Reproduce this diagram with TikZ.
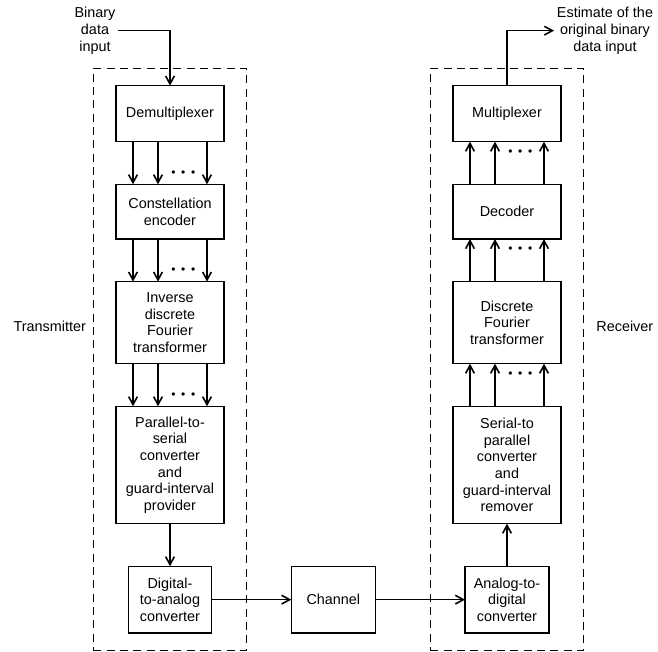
\documentclass[tikz,border=0pt]{standalone}
\usepackage{fontspec}
\setmainfont{Liberation Sans}
\usetikzlibrary{arrows.meta, positioning, fit, calc}

\begin{document}
\begin{tikzpicture}[
    node distance=32pt,
    block/.style={rectangle, draw=black, line width=0.9pt, outer sep=0pt, minimum width=81pt, text centered, align=center, font=\fontsize{10.8}{12.5}\selectfont},
    group/.style={rectangle, draw=black, line width=0.7pt, dash pattern=on 6pt off 4pt, inner xsep=17pt, inner ysep=12.8pt},
    tag/.style={align=center, inner sep=2pt, font=\fontsize{10.8}{12.5}\selectfont},
    dots/.style={inner sep=0pt, font=\fontsize{9}{9}\selectfont},
    arrow/.style={line width=1.2pt, -{Straight Barb[length=6pt,width=6.5pt]}}
]
    \useasboundingbox (0,-1pt) rectangle (493.5pt,488pt);

    % transmitter chain
    \node[block, minimum height=42pt] (demux) at (127.5pt,402.75pt) {Demultiplexer};
    \node[block, minimum height=41pt, below=of demux] (encoder) {Constellation\\encoder};
    \node[block, minimum height=61.5pt, below=of encoder] (idft) {Inverse\\discrete\\Fourier\\transformer};
    \node[block, minimum height=88pt, below=of idft] (ps) {Parallel-to-\\serial\\converter\\and\\guard-interval\\provider};
    \node[block, minimum width=62pt, minimum height=50pt, below=of ps] (dac) {Digital-\\to-analog\\converter};

    % channel
    \node[block, minimum width=63pt, minimum height=50pt, right=60pt of dac] (channel) {Channel};

    % receiver chain
    \node[block, minimum height=42pt, right=171.75pt of demux] (mux) {Multiplexer};
    \node[block, minimum height=41pt, below=of mux] (decoder) {Decoder};
    \node[block, minimum height=61.5pt, below=of decoder] (dft) {Discrete\\Fourier\\transformer};
    \node[block, minimum height=88pt, below=of dft] (sp) {Serial-to\\parallel\\converter\\and\\guard-interval\\remover};
    \node[block, minimum width=63pt, minimum height=50pt, below=of sp] (adc) {Analog-to-\\digital\\converter};

    % dashed groups and their labels
    \node[group, fit=(demux)(dac)] (tx) {};
    \node[group, fit=(mux)(adc)] (rx) {};
    \node[tag, anchor=east] (txlabel) at ($(tx.west |- idft)+(-3pt,-3pt)$) {Transmitter};
    \node[tag, anchor=west] (rxlabel) at ($(rx.east |- dft)+(7pt,-3pt)$) {Receiver};

    % input and output
    \node[tag] (input) at (71.25pt,465pt) {Binary\\data\\input};
    \node[tag] (output) at (453.75pt,465pt) {Estimate of the\\original binary\\data input};

    \draw[arrow] (input.east) -| (demux.north);
    \draw[arrow] (mux.north) |- (output.west);

    % parallel branches
    \foreach \a/\b in {demux/encoder, encoder/idft, idft/ps} {
        \foreach \x in {-27.75pt, -9pt, 27.75pt}
            \draw[arrow] ([xshift=\x]\a.south) -- ([xshift=\x]\b.north);
        \node[dots] (dots-\b) at ([xshift=10pt, yshift=8pt]\b.north) {\textbullet\hspace{4.3pt}\textbullet\hspace{4.3pt}\textbullet};
    }
    \foreach \a/\b in {sp/dft, dft/decoder, decoder/mux} {
        \foreach \x in {-27.75pt, -9pt, 27.75pt}
            \draw[arrow] ([xshift=\x]\a.north) -- ([xshift=\x]\b.south);
        \node[dots] (dots-\b) at ([xshift=10pt, yshift=-8pt]\b.south) {\textbullet\hspace{4.3pt}\textbullet\hspace{4.3pt}\textbullet};
    }

    \draw[arrow] (ps) -- (dac);
    \draw[arrow] (dac) -- (channel);
    \draw[arrow] (channel) -- (adc);
    \draw[arrow] (adc) -- (sp);

\end{tikzpicture}
\end{document}
